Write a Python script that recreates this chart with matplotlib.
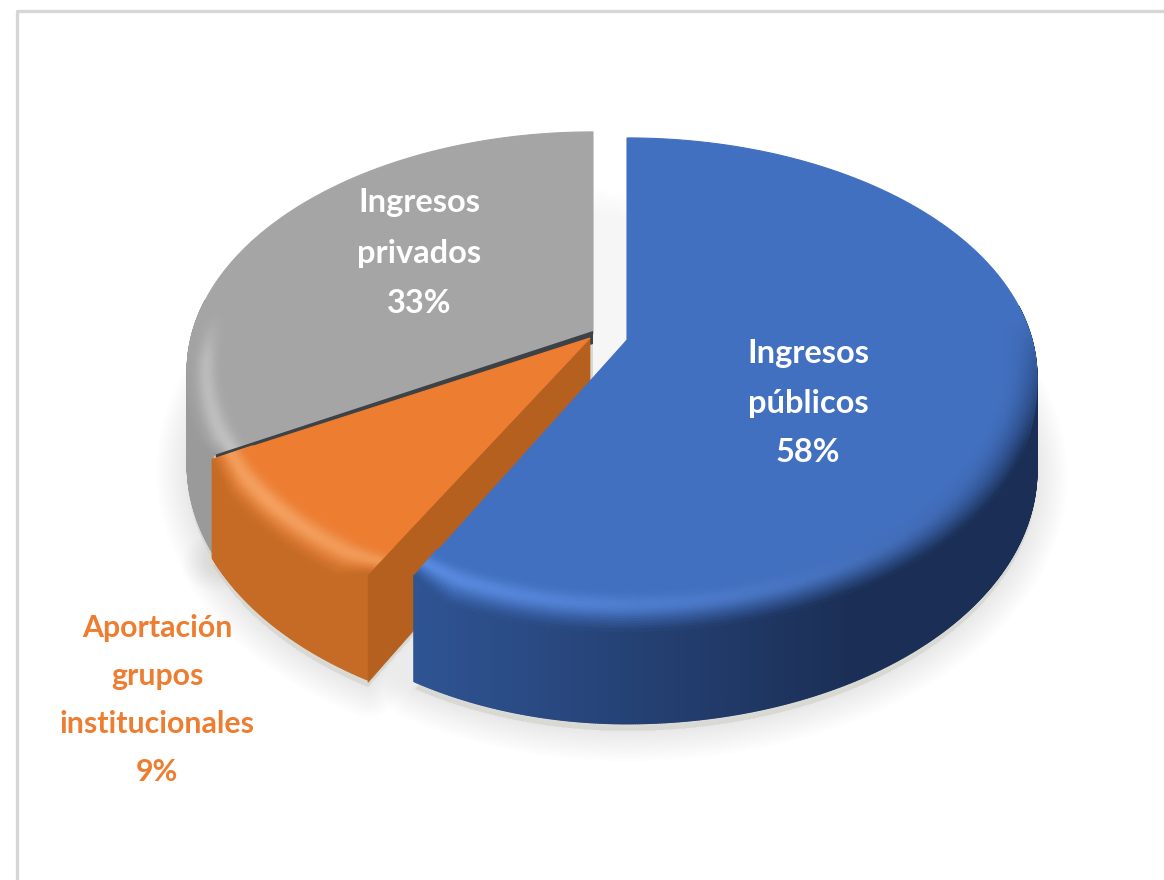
"""Exploded 3D-look pie of income sources, drawn from the shares below."""
import numpy as np
import matplotlib
matplotlib.use("Agg")
import matplotlib.pyplot as plt
from matplotlib.collections import PolyCollection
from matplotlib.colors import to_rgb
from matplotlib.patches import Polygon

labels = ["Ingresos\npúblicos\n58%", "Aportación\ngrupos\ninstitucionales\n9%", "Ingresos\nprivados\n33%"]
shares = [58, 9, 33]
faces = ["#4270c0", "#ed7d31", "#a5a5a5"]
sides_left = ["#2f5493", "#c56b26", "#9a9a9a"]
sides_right = ["#1b2f56", "#b9621f", "#8e8e8e"]
highlights = ["#5f92ea", "#f5a060", "#c4c4c4"]
walls = ["#2a4a85", "#b5601f", "#3d4246"]
text_colors = ["white", "#ed7d31", "white"]

# pie centre of each slice and where its label sits, in image pixels
centres = [(627, 340), (590, 338), (593, 334)]
label_pos = [(808, 403), (157, 700), (419, 253)]
label_sizes = [23.5, 21.8, 23.5]
line_gaps = [1.86, 1.87, 1.88]
left_scale = [0.94, 0.985, 0.99]   # the picture is a bit narrower to the left of each apex

RX, RY, K = 405, 233, 0.153   # ellipse radii and perspective strength
DEPTH, BEVEL_Z, BEVEL_W = 92, 14, 0.1


def proj(c, ang, r=1.0, z=0.0, ls=1.0):
    a = np.radians(ang)
    u, v = r * np.sin(a), r * np.cos(a)
    s = 1 / (1 + K * v)
    return c[0] + RX * u * s * np.where(u < 0, ls, 1.0), c[1] - RY * v * s + z * s


def mix(c1, c2, t):
    return tuple((1 - t) * np.array(c1) + t * np.array(c2))


def wedge_pts(c, a0, a1, r=1.0, z=0.0, ls=1.0):
    x, y = proj(c, np.linspace(a0, a1, 300), r, z, ls)
    return np.vstack([[c[0], c[1] + z], np.column_stack([x, y])])


fig = plt.figure(figsize=(11.64, 8.8), dpi=100, facecolor="white")
ax = fig.add_axes([0, 0, 1, 1])
ax.set_xlim(0, 1164)
ax.set_ylim(880, 0)
ax.axis("off")

# frame of the pasted picture
ax.plot([17, 17, 1164], [880, 11, 11], color="#d6d6d6", lw=2.4, solid_joinstyle="round")

# slice angles, clockwise from 12 o'clock
edges = np.cumsum([0] + shares) * 3.6
spans = list(zip(edges[:-1], edges[1:]))

# soft shadow under the pie
for i, (a0, a1) in enumerate(spans):
    pts = wedge_pts(centres[i], a0, a1, 1.0, DEPTH + 6, left_scale[i])
    for lw in range(44, 0, -4):
        ax.add_patch(Polygon(pts, closed=True, facecolor="#8a8a7a", edgecolor="#8a8a7a",
                             lw=lw, alpha=0.013, joinstyle="round", zorder=1))

# the gap between the slices stays almost white, both shadows overlap there
ax.add_patch(Polygon([(centres[2][0], 130), (centres[0][0], 130), (centres[0][0], 400), (centres[2][0], 400)],
                     facecolor="white", edgecolor="none", alpha=0.6, zorder=1.5))


def draw_slice(i, z):
    c = centres[i]
    ls = left_scale[i]
    a0, a1 = spans[i]
    face, hi = to_rgb(faces[i]), to_rgb(highlights[i])
    s_l, s_r = to_rgb(sides_left[i]), to_rgb(sides_right[i])

    def side_col(x):
        return mix(s_l, s_r, float(np.clip((x - 415) / 435, 0, 1)))

    # outer side, split in strips for the gradient
    ang = np.arange(a0, a1 + 0.25, 0.25)
    ang = ang[np.cos(np.radians(ang)) < 0.15]
    polys, cols = [], []
    for p, q in zip(ang[:-1], ang[1:]):
        x0, y0 = proj(c, p, 1, 0, ls)
        x1, y1 = proj(c, q, 1, 0, ls)
        x2, y2 = proj(c, q, 1, DEPTH, ls)
        x3, y3 = proj(c, p, 1, DEPTH, ls)
        polys.append([(x0, y0), (x1, y1), (x2, y2), (x3, y3)])
        cols.append(side_col(x0))
    ax.add_collection(PolyCollection(polys, facecolors=cols, edgecolors=cols, linewidths=1.0, zorder=z))

    # wall of the orange slice facing the gap
    if i == 1:
        xe, ye = proj(c, a0, 1, 0, ls)
        ax.add_patch(Polygon([c, (xe, ye), (xe, ye + DEPTH * 1.18), (c[0], c[1] + DEPTH)],
                             facecolor=walls[i], edgecolor=walls[i], lw=0.5, zorder=z + 0.1))

    # flat top, taken out to the full radius so the rim has a clean outline
    ax.add_patch(Polygon(wedge_pts(c, a0, a1, 1.0, 0, ls), facecolor=face, edgecolor=face, lw=0.8, zorder=z + 0.2))

    # rounded rim: face colour, a highlight band, then the side colour
    ts = np.linspace(0, 1, 25)
    ang = np.arange(a0, a1 + 0.5, 0.5)
    polys, cols = [], []
    for p, q in zip(ang[:-1], ang[1:]):
        rad = np.radians(p)
        front = float(np.clip((0.1 - np.cos(rad)) / 0.5, 0, 1))
        if front == 0:
            continue
        taper = float(np.clip(min(p - a0, a1 - p) / 5, 0, 1))   # the rim flattens at the cut ends
        glow = float(np.clip(1 - abs(p - 230) / 110, 0, 1)) * min(1.0, front * 2.5)
        for t0, t1 in zip(ts[:-1], ts[1:]):
            r0, r1 = 1 - BEVEL_W * (1 - t0), 1 - BEVEL_W * (1 - t1)
            z0, z1 = BEVEL_Z * t0 ** 2 * front * taper, BEVEL_Z * t1 ** 2 * front * taper
            quad = [proj(c, p, r0, z0, ls), proj(c, q, r0, z0, ls),
                    proj(c, q, r1, z1, ls), proj(c, p, r1, z1, ls)]
            tm = (t0 + t1) / 2
            col = mix(face, side_col(float(quad[0][0])), tm ** 2.5 * front)
            col = mix(col, hi, glow * np.exp(-((tm - 0.55) / 0.22) ** 2))
            polys.append(quad)
            cols.append(col)
    ax.add_collection(PolyCollection(polys, facecolors=cols, edgecolors=cols, linewidths=0.8, zorder=z + 0.3))

    # grey slice wall shows as the dark line above the orange slice
    if i == 2:
        xe, ye = proj(c, a0, 0.995, 0, ls)
        ax.add_patch(Polygon([(c[0], c[1] - 3), (xe, ye), (xe, ye + 12), (c[0], c[1] + 10)],
                             facecolor=walls[i], edgecolor="none", zorder=z + 0.4))


# back to front: grey, orange, blue
draw_slice(2, 2)
draw_slice(1, 3)
draw_slice(0, 4)

for lab, (x, y), col, size, gap in zip(labels, label_pos, text_colors, label_sizes, line_gaps):
    ax.text(x, y, lab, color=col, ha="center", va="center", family=["Lato", "DejaVu Sans"],
            fontweight="bold", fontsize=size, linespacing=gap, zorder=6)

fig.savefig("out.png", dpi=100)
